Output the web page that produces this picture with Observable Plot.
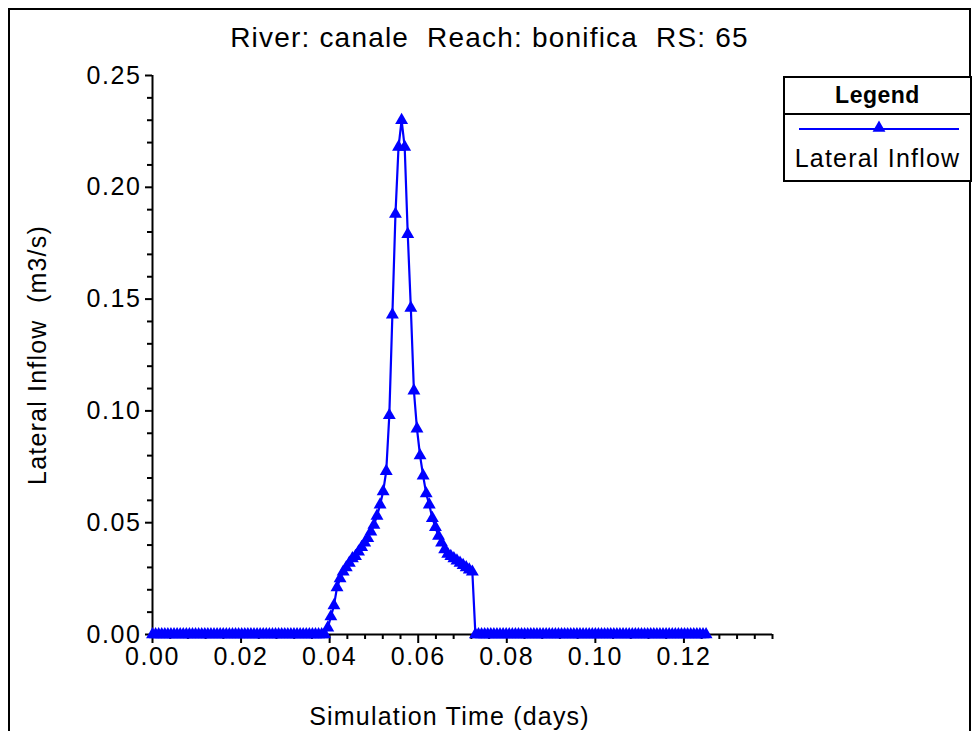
<!DOCTYPE html>
<html>
<head>
<meta charset="utf-8">
<script src="https://cdn.jsdelivr.net/npm/d3@7"></script>
<script src="https://cdn.jsdelivr.net/npm/@observablehq/plot@0.6"></script>
<style>
  html, body { margin: 0; padding: 0; background: #fff; overflow: hidden; }
  #wrap { position: relative; width: 972px; height: 731px; font-family: "Liberation Sans", Arial, sans-serif; color: #000; }
  #frame { position: absolute; left: 8px; top: 8px; width: 959px; height: 780px; border: 2px solid #000; }
  #title { position: absolute; left: 10px; width: 959px; top: 22px; text-align: center; font-size: 28px; letter-spacing: 1.2px; white-space: pre; }
  #chart { position: absolute; left: 0; top: 0; }
  #legend { position: absolute; left: 783px; top: 76px; width: 185px; height: 102px; border: 2px solid #000; background: #fff; }
  #legend .head { height: 35px; border-bottom: 2px solid #000; font-weight: bold; font-size: 23px; text-align: center; line-height: 35px; letter-spacing: 0.5px; }
  #legend svg { display: block; }
  #legend .name { font-size: 25px; text-align: center; letter-spacing: 1.2px; line-height: 30px; }
</style>
</head>
<body>
<div id="wrap">
  <div id="frame"></div>
  <div id="chart"></div>
  <div id="title">River: canale  Reach: bonifica  RS: 65</div>
  <div id="legend">
    <div class="head">Legend</div>
    <svg id="legsym" width="185" height="28"></svg>
    <div class="name">Lateral Inflow</div>
  </div>
</div>
<script>
// Lateral inflow (m3/s), one value per 1-minute output interval, 0 to 0.125 days
const lateralInflow = [
  0,0,0,0,0,0,0,0,0,0, 0,0,0,0,0,0,0,0,0,0,
  0,0,0,0,0,0,0,0,0,0, 0,0,0,0,0,0,0,0,0,0,
  0,0,0,0,0,0,0,0,0,0, 0,0,0,0,0,0,0,
  0.003,0.008,0.013,0.021,0.025,0.028,0.030,0.032,0.034,0.035,
  0.037,0.039,0.041,0.043,0.046,0.049,0.053,0.058,0.064,0.073,
  0.098,0.143,0.188,0.218,0.230,
  0.218,0.179,0.146,0.109,0.092,0.080,0.071,0.063,0.058,0.052,
  0.048,0.044,0.041,0.038,0.036,0.035,0.034,0.033,0.032,0.031,
  0.030,0.029,0.028,
  0,0,0,0,0,0,0,0,0,0, 0,0,0,0,0,0,0,0,0,0,
  0,0,0,0,0,0,0,0,0,0, 0,0,0,0,0,0,0,0,0,0,
  0,0,0,0,0,0,0,0,0,0, 0,0,0,0,0,0,0,0,0,0,
  0,0,0,0,0,0,0,0,0,0, 0,0,0,0,0,0
];
const minutesPerDay = 1440;
const xTicks = [0.00, 0.02, 0.04, 0.06, 0.08, 0.10, 0.12];
const xMinorTicks = [0.004,0.008,0.012,0.016,0.024,0.028,0.032,0.036,0.044,0.048,0.052,0.056,
  0.064,0.068,0.072,0.076,0.084,0.088,0.092,0.096,0.104,0.108,0.112,0.116,0.124,0.128,0.132,0.136,0.14];
const yTicks = [0.00, 0.05, 0.10, 0.15, 0.20, 0.25];
const yMinorTicks = [0.01,0.02,0.03,0.04,0.06,0.07,0.08,0.09,0.11,0.12,0.13,0.14,0.16,0.17,0.18,0.19,0.21,0.22,0.23,0.24];

const seriesName = "Lateral Inflow";
const blue = "#0000ff";

const data = lateralInflow.map((v, i) => ({t: i / minutesPerDay, q: v}));

const fmt = d3.format(".2f");
const plot = Plot.plot({
  width: 972,
  height: 731,
  marginLeft: 152,
  marginRight: 200,
  marginTop: 75,
  marginBottom: 97,
  style: { fontFamily: '"Liberation Sans", Arial, sans-serif', background: "transparent", color: "#000" },
  x: { domain: [0, 0.14] },
  y: { domain: [0, 0.25] },
  marks: [
    Plot.axisX({ ticks: xMinorTicks, tickSize: 5, strokeWidth: 2, tickFormat: () => "", label: null }),
    Plot.axisX({ ticks: xTicks, tickSize: 9, strokeWidth: 2, tickPadding: 4, tickFormat: fmt, fontSize: 25,
      label: "Simulation Time (days)", labelAnchor: "center", labelOffset: 90, labelArrow: "none" }),
    Plot.axisY({ ticks: yMinorTicks, tickSize: 5, strokeWidth: 2, tickFormat: () => "", label: null }),
    Plot.axisY({ ticks: yTicks, tickSize: 7, strokeWidth: 2, tickPadding: 4, tickFormat: fmt, fontSize: 25,
      label: "Lateral Inflow  (m3/s)", labelAnchor: "center", labelOffset: 124, labelArrow: "none" }),
    Plot.ruleX([0], { strokeWidth: 2 }),
    Plot.ruleY([0], { strokeWidth: 2 }),
    Plot.line(data, { x: "t", y: "q", stroke: blue, strokeWidth: 2.2 }),
    Plot.dot(data, { x: "t", y: "q", symbol: "triangle", fill: blue, r: 4.8 })
  ]
});
d3.select(plot).selectAll('g[aria-label="x-axis tick label"] text, g[aria-label="y-axis tick label"] text').style("letter-spacing", "1.6px");
d3.select(plot).selectAll('g[aria-label="x-axis label"] text, g[aria-label="y-axis label"] text').style("font-size", "25px").style("letter-spacing", "1.2px").style("white-space", "pre");
d3.select(plot).selectAll('g[aria-label="x-axis label"]').attr("transform", function () {
  return "translate(-13,0) " + (this.getAttribute("transform") || "");
});
document.getElementById("chart").appendChild(plot);

// legend symbol
const leg = d3.select("#legsym");
leg.append("line").attr("x1", 14).attr("x2", 174).attr("y1", 14).attr("y2", 14).attr("stroke", blue).attr("stroke-width", 2);
leg.append("path").attr("d", d3.symbol(d3.symbolTriangle, Math.PI * 4.8 * 4.8)()).attr("transform", "translate(94,13)").attr("fill", blue);
leg.attr("aria-label", seriesName);
</script>
</body>
</html>
